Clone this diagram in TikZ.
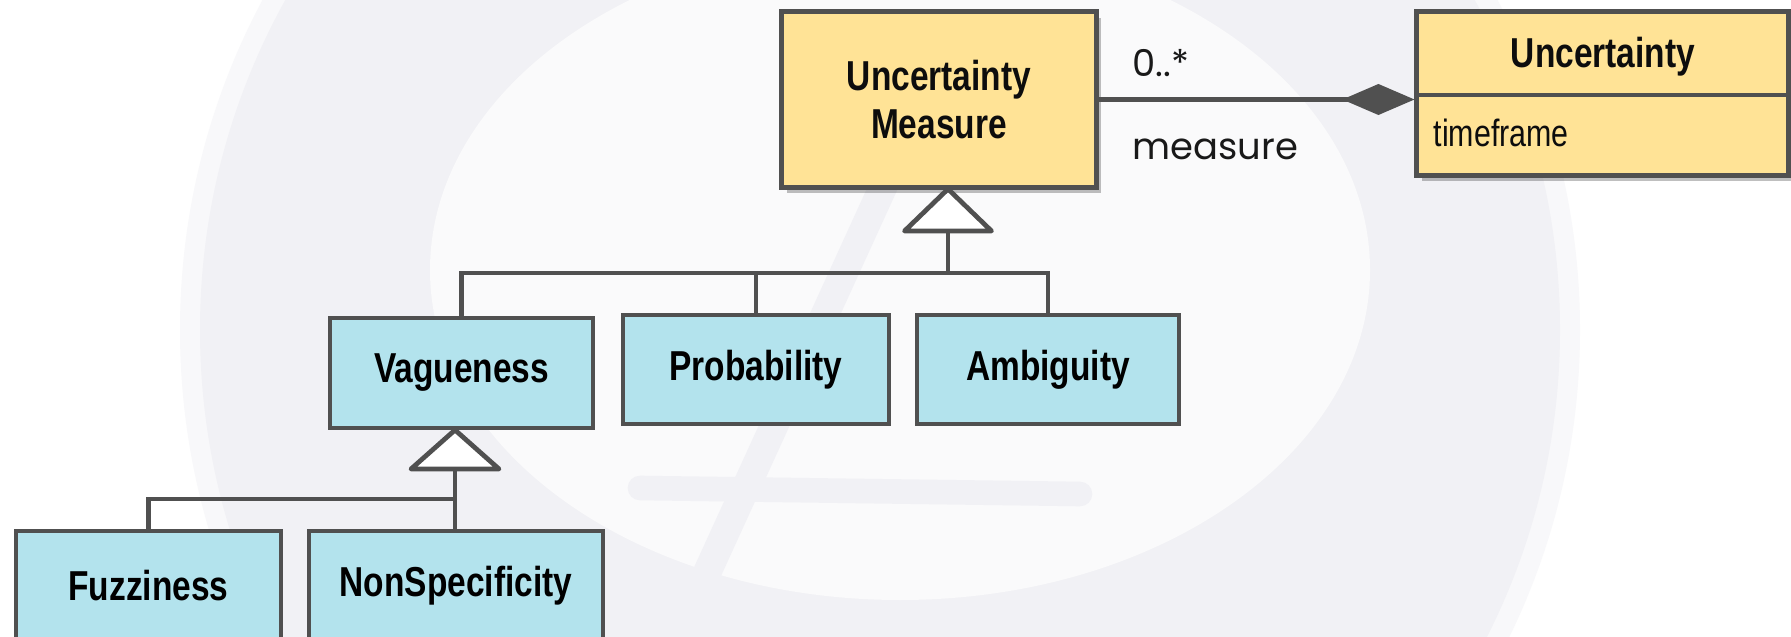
\documentclass[tikz,border=0pt]{standalone}
\usepackage{fontspec}
\usetikzlibrary{arrows.meta,shadows}
\newfontfamily\boxfont[FakeStretch=0.8]{Liberation Sans}
\newfontfamily\labfont{Poppins}
\definecolor{umyellow}{RGB}{255,227,150}
\definecolor{clsblue}{RGB}{179,227,237}
\definecolor{edgegray}{RGB}{80,80,80}
\definecolor{wmgray}{RGB}{241,241,245}
\definecolor{wmlight}{RGB}{250,250,251}
\begin{document}
\begin{tikzpicture}[x=0.01cm, y=-0.01cm,
  yellowbox/.style={draw=edgegray, line width=1.4pt, fill=umyellow, inner sep=0pt,
    drop shadow={shadow xshift=0.05cm, shadow yshift=-0.06cm, fill=black, opacity=0.25}},
  bluebox/.style={draw=edgegray, line width=1pt, fill=clsblue, inner sep=0pt,
    font=\boxfont\bfseries\fontsize{11.9}{13.9}\selectfont},
  boldtext/.style={font=\boxfont\bfseries\fontsize{11.9}{13.9}\selectfont, text=black!95},
  attrtext/.style={font=\boxfont\fontsize{10.8}{13}\selectfont, text=black!95},
  lab/.style={font=\labfont\fontsize{10.5}{12}\selectfont, text=black!90, inner sep=0pt},
  conn/.style={draw=edgegray, line width=1.35pt},
  gentri/.style={draw=edgegray, line width=1.35pt, fill=white, line join=round},
]
% background and faint watermark
\useasboundingbox (0,0) rectangle (1791,637);
\fill[white] (0,0) rectangle (1791,637);
\begin{scope}
  \clip (0,0) rectangle (1791,637);
  \fill[white!50!wmgray] (880,330) circle [radius=700];
  \fill[wmgray] (880,330) circle [radius=680];
  \fill[wmlight] (900,270) ellipse [x radius=470, y radius=330];
  \draw[wmgray, line width=8pt, line cap=round] (900,150) -- (690,610);
  \draw[wmgray, line width=7pt, line cap=round] (640,488) -- (1080,494);
\end{scope}

% class boxes
\node[yellowbox, boldtext, minimum width=3.14cm, minimum height=1.75cm, align=center] (um) at (939,99.5) {Uncertainty\\Measure};
\node[yellowbox, minimum width=3.71cm, minimum height=1.63cm] (unc) at (1602.5,93.5) {};
\coordinate (divy) at (0,95);
\draw[edgegray, line width=1.4pt] (unc.west |- divy) -- (unc.east |- divy);
\node[boldtext, anchor=base] (unctitle) at (1603,68) {Uncertainty};
\node[attrtext, anchor=base west, inner sep=0pt] (uncattr) at (1433,147) {timeframe};

\node[bluebox, minimum width=2.63cm, minimum height=1.10cm] (vag) at (461.5,373) {Vagueness};
\node[bluebox, minimum width=2.66cm, minimum height=1.09cm] (prob) at (756,369.5) {Probability};
\node[bluebox, minimum width=2.62cm, minimum height=1.09cm] (amb) at (1048,369.5) {Ambiguity};
\node[bluebox, minimum width=2.65cm, minimum height=1.10cm] (fuzz) at (148.5,586) {Fuzziness};
\node[bluebox, minimum width=2.94cm, minimum height=1.10cm] (nons) at (456,586) {NonSpecificity};

% composition
\draw[conn, -{Diamond[length=7.2mm, width=3.1mm]}] (um.east) -- (unc.west |- um.east);
\node[lab, anchor=base west] (mult) at (1132,77) {0..*};
\node[lab, anchor=base west] (role) at (1132,160) {measure};

% generalization 1
\coordinate (g1tip) at (948,189);
\coordinate (g1base) at (948,231);
\coordinate (g1bus) at (948,273);
\draw[conn] (g1base) -- (g1bus);
\draw[conn] (vag.north) |- (g1bus) -| (amb.north);
\draw[conn] (prob.north) -- (prob.north |- g1bus);
\draw[gentri] (g1tip) -- ++(-43.5,42) -- ++(87,0) -- cycle;

% generalization 2
\coordinate (g2tip) at (455,430);
\coordinate (g2base) at (455,469);
\coordinate (g2bus) at (455,499);
\draw[conn] (g2base) -- (g2bus);
\draw[conn] (fuzz.north) |- (g2bus);
\draw[conn] (g2bus) -- (g2bus |- nons.north);
\draw[gentri] (g2tip) -- ++(-44,39) -- ++(88,0) -- cycle;
\end{tikzpicture}
\end{document}
